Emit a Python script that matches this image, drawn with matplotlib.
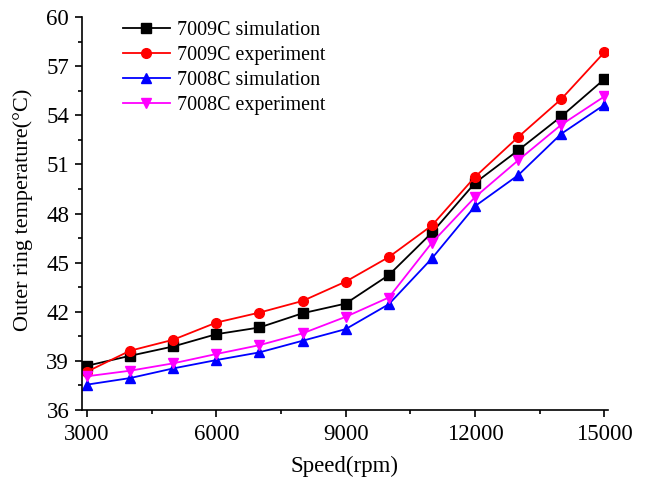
import matplotlib
matplotlib.use('Agg')
import matplotlib.pyplot as plt
from matplotlib.ticker import MultipleLocator

# speed (rpm) and outer ring temperature (C)
speed = [3000, 4000, 5000, 6000, 7000, 8000, 9000, 10000, 11000, 12000, 13000, 14000, 15000]
sim_7009c = [38.70, 39.31, 39.88, 40.63, 41.04, 41.91, 42.50, 44.24, 46.83, 49.87, 51.86, 53.93, 56.21]
exp_7009c = [38.34, 39.62, 40.29, 41.34, 41.95, 42.66, 43.84, 45.34, 47.27, 50.24, 52.67, 54.99, 57.85]
sim_7008c = [37.55, 37.95, 38.54, 39.05, 39.52, 40.23, 40.94, 42.46, 45.26, 48.45, 50.34, 52.87, 54.64]
exp_7008c = [38.06, 38.40, 38.85, 39.42, 39.96, 40.68, 41.69, 42.87, 46.22, 49.00, 51.25, 53.42, 55.15]

plt.rcParams['font.family'] = ['Liberation Serif', 'DejaVu Serif']

fig = plt.figure(figsize=(6.46, 4.79), dpi=100)
ax = fig.add_axes([0.1265, 0.144, 0.8145, 0.8205])

lw = 1.3
ms = 7
ax.plot(speed, sim_7009c, color='black', marker='s', lw=lw, ms=ms, label='7009C simulation')
ax.plot(speed, exp_7009c, color='red', marker='o', lw=lw, ms=ms, label='7009C experiment')
ax.plot(speed, sim_7008c, color='blue', marker='^', lw=lw, ms=ms, label='7008C simulation')
ax.plot(speed, exp_7008c, color='magenta', marker='v', lw=lw, ms=ms, label='7008C experiment')

ax.set_xlim(2880, 15080)
ax.set_ylim(36, 60)
ax.xaxis.set_major_locator(MultipleLocator(3000))
ax.xaxis.set_minor_locator(MultipleLocator(1500))
ax.yaxis.set_major_locator(MultipleLocator(3))
ax.yaxis.set_minor_locator(MultipleLocator(1.5))

ax.spines['top'].set_visible(False)
ax.spines['right'].set_visible(False)
for s in ['left', 'bottom']:
    ax.spines[s].set_linewidth(1.2)
ax.tick_params(which='major', direction='out', length=5, width=1.2, labelsize=16.5)
ax.tick_params(axis='x', which='major', pad=5)
ax.tick_params(axis='y', which='major', pad=4)
ax.tick_params(which='minor', direction='out', length=3, width=1.2)

ax.set_xlabel('Speed(rpm)', fontsize=16.5, labelpad=8)
ax.set_ylabel('Outer ring temperature(°C)', fontsize=16, labelpad=9)
ax.yaxis.set_label_coords(-0.093, 0.51)

ax.legend(loc='upper left', bbox_to_anchor=(0.178, 0.972), bbox_transform=fig.transFigure,
          frameon=False, fontsize=14.4, handlelength=2.35, handletextpad=0.35,
          labelspacing=0.3, borderaxespad=0)

fig.savefig('out.png', dpi=100)
